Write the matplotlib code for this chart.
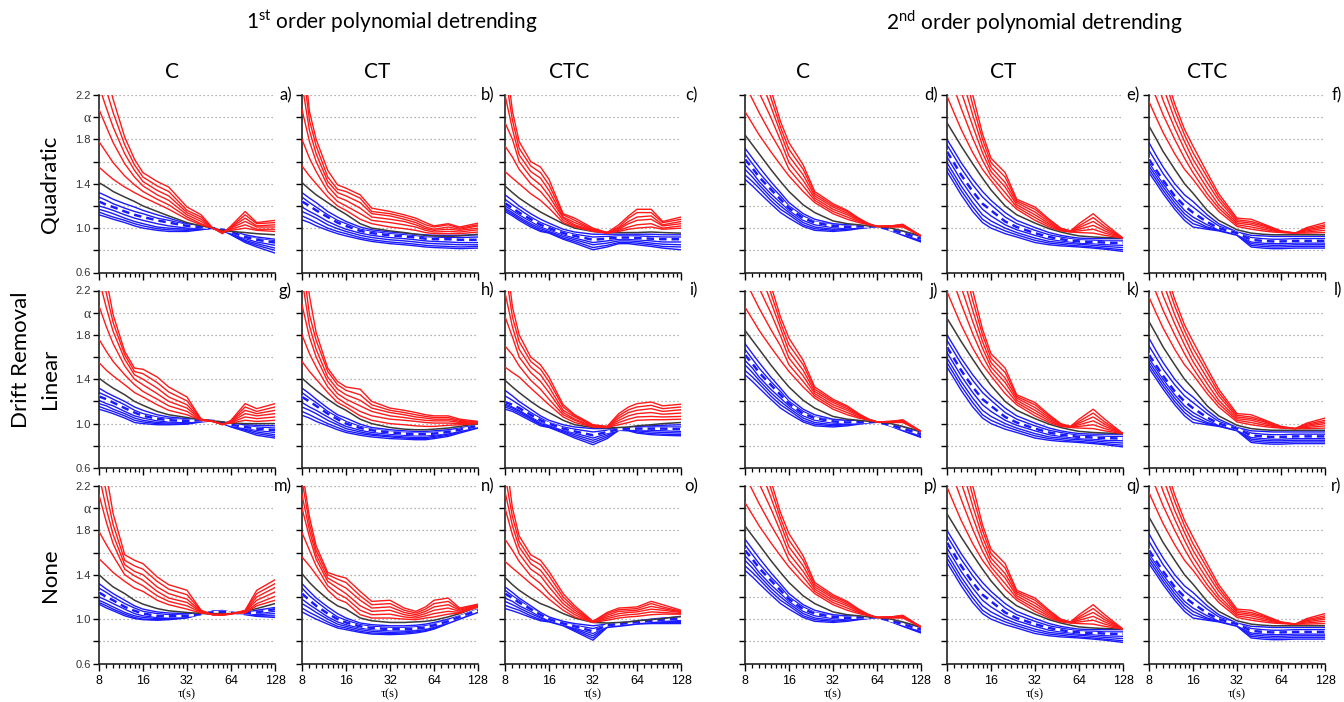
import numpy as np
import matplotlib
matplotlib.use('Agg')
import matplotlib.pyplot as plt
from matplotlib.ticker import FixedLocator, NullFormatter

plt.rcParams['font.family'] = ['Lato', 'DejaVu Sans']
plt.rcParams['mathtext.fontset'] = 'custom'
plt.rcParams['mathtext.rm'] = 'Lato'

tau = [8, 9, 10, 12, 14, 16, 20, 24, 32, 40, 48, 56, 64, 80, 96, 128]

# ---- 1st order, Quadratic, C (a)
a_black = [1.41, 1.37, 1.33, 1.28, 1.24, 1.20, 1.15, 1.11, 1.05, 1.02, 1.00, 0.98, 0.97, 0.96, 0.95, 0.94]
a_red = [
    [1.55, 1.49, 1.44, 1.37, 1.32, 1.28, 1.22, 1.17, 1.08, 1.03, 1.00, 0.97, 0.98, 1.00, 0.98, 0.97],
    [1.78, 1.68, 1.59, 1.47, 1.39, 1.33, 1.26, 1.21, 1.10, 1.04, 1.00, 0.965, 0.99, 1.03, 0.99, 0.99],
    [2.07, 1.91, 1.77, 1.58, 1.46, 1.38, 1.30, 1.25, 1.12, 1.06, 1.00, 0.96, 1.00, 1.06, 1.01, 1.01],
    [2.28, 2.08, 1.91, 1.67, 1.52, 1.42, 1.34, 1.29, 1.14, 1.08, 1.00, 0.96, 1.005, 1.09, 1.02, 1.03],
    [2.48, 2.24, 2.04, 1.75, 1.57, 1.46, 1.38, 1.33, 1.16, 1.10, 1.00, 0.955, 1.01, 1.12, 1.04, 1.05],
    [2.68, 2.40, 2.16, 1.82, 1.62, 1.50, 1.42, 1.37, 1.19, 1.12, 1.00, 0.95, 1.02, 1.15, 1.05, 1.07],
]
a_blue = [
    [1.32, 1.29, 1.26, 1.22, 1.19, 1.16, 1.12, 1.09, 1.04, 1.02, 1.00, 0.99, 0.975, 0.94, 0.92, 0.90],
    [1.28, 1.25, 1.22, 1.18, 1.15, 1.13, 1.09, 1.07, 1.03, 1.01, 1.00, 0.985, 0.97, 0.93, 0.905, 0.885],
    [1.24, 1.21, 1.19, 1.15, 1.12, 1.10, 1.07, 1.05, 1.02, 1.01, 1.00, 0.985, 0.965, 0.92, 0.895, 0.87],
    [1.20, 1.18, 1.16, 1.12, 1.09, 1.07, 1.04, 1.02, 1.00, 1.00, 1.00, 0.98, 0.955, 0.905, 0.875, 0.845],
    [1.17, 1.15, 1.13, 1.09, 1.06, 1.04, 1.01, 1.00, 0.99, 0.99, 1.00, 0.98, 0.95, 0.89, 0.86, 0.82],
    [1.145, 1.12, 1.10, 1.07, 1.04, 1.02, 0.995, 0.985, 0.98, 0.99, 1.00, 0.98, 0.945, 0.88, 0.845, 0.80],
    [1.12, 1.10, 1.08, 1.05, 1.02, 1.00, 0.98, 0.97, 0.97, 0.985, 1.00, 0.98, 0.94, 0.87, 0.83, 0.775],
]

# ---- 1st order, Quadratic, CT (b)
b_black = [1.41, 1.35, 1.30, 1.23, 1.17, 1.125, 1.04, 1.00, 0.975, 0.96, 0.945, 0.935, 0.93, 0.925, 0.93, 0.945]
b_red = [
    [1.56, 1.47, 1.40, 1.28, 1.20, 1.16, 1.08, 1.04, 1.01, 0.995, 0.98, 0.96, 0.95, 0.95, 0.95, 0.965],
    [1.80, 1.63, 1.51, 1.33, 1.24, 1.20, 1.13, 1.07, 1.05, 1.03, 1.01, 0.98, 0.965, 0.97, 0.965, 0.985],
    [2.07, 1.78, 1.60, 1.38, 1.28, 1.25, 1.18, 1.10, 1.08, 1.06, 1.03, 0.995, 0.98, 0.99, 0.98, 1.00],
    [2.30, 1.88, 1.67, 1.42, 1.32, 1.29, 1.23, 1.13, 1.11, 1.08, 1.05, 1.01, 0.99, 1.01, 0.99, 1.02],
    [2.50, 1.97, 1.74, 1.46, 1.35, 1.33, 1.27, 1.15, 1.13, 1.10, 1.07, 1.03, 1.01, 1.03, 1.00, 1.03],
    [2.70, 2.05, 1.80, 1.52, 1.39, 1.36, 1.30, 1.18, 1.15, 1.12, 1.09, 1.05, 1.02, 1.04, 1.01, 1.045],
]
b_blue = [
    [1.32, 1.27, 1.23, 1.15, 1.10, 1.06, 1.01, 0.985, 0.965, 0.955, 0.945, 0.94, 0.935, 0.935, 0.935, 0.94],
    [1.28, 1.23, 1.19, 1.12, 1.07, 1.04, 0.99, 0.97, 0.95, 0.94, 0.93, 0.92, 0.92, 0.915, 0.915, 0.92],
    [1.24, 1.20, 1.16, 1.10, 1.05, 1.02, 0.975, 0.955, 0.935, 0.925, 0.915, 0.905, 0.90, 0.90, 0.895, 0.895],
    [1.19, 1.15, 1.12, 1.06, 1.02, 0.99, 0.955, 0.935, 0.915, 0.905, 0.895, 0.885, 0.88, 0.875, 0.87, 0.87],
    [1.15, 1.12, 1.09, 1.03, 0.995, 0.97, 0.935, 0.915, 0.895, 0.885, 0.875, 0.865, 0.86, 0.855, 0.85, 0.85],
    [1.11, 1.08, 1.05, 1.00, 0.97, 0.95, 0.915, 0.895, 0.875, 0.865, 0.855, 0.845, 0.84, 0.835, 0.83, 0.835],
    [1.075, 1.05, 1.02, 0.98, 0.95, 0.93, 0.90, 0.88, 0.86, 0.85, 0.84, 0.83, 0.825, 0.82, 0.815, 0.82],
]

# ---- 1st order, Quadratic, CTC (c)
c_black = [1.38, 1.32, 1.27, 1.20, 1.145, 1.105, 1.04, 1.00, 0.97, 0.96, 0.96, 0.96, 0.96, 0.965, 0.96, 0.955]
c_red = [
    [1.51, 1.45, 1.40, 1.31, 1.25, 1.18, 1.05, 1.01, 0.97, 0.955, 0.97, 0.99, 1.00, 1.01, 0.99, 1.00],
    [1.74, 1.64, 1.53, 1.40, 1.33, 1.24, 1.07, 1.02, 0.975, 0.955, 0.98, 1.01, 1.03, 1.04, 1.00, 1.02],
    [1.95, 1.80, 1.60, 1.46, 1.39, 1.29, 1.09, 1.03, 0.98, 0.955, 0.99, 1.04, 1.07, 1.08, 1.02, 1.04],
    [2.20, 1.89, 1.66, 1.51, 1.45, 1.34, 1.10, 1.05, 0.985, 0.96, 1.00, 1.06, 1.10, 1.11, 1.03, 1.06],
    [2.40, 1.97, 1.72, 1.56, 1.50, 1.39, 1.12, 1.07, 0.99, 0.96, 1.01, 1.09, 1.14, 1.14, 1.05, 1.08],
    [2.60, 2.05, 1.78, 1.60, 1.55, 1.44, 1.13, 1.09, 1.00, 0.96, 1.03, 1.11, 1.17, 1.17, 1.06, 1.10],
]
c_blue = [
    [1.30, 1.25, 1.20, 1.13, 1.08, 1.045, 0.99, 0.965, 0.945, 0.945, 0.945, 0.945, 0.945, 0.945, 0.94, 0.94],
    [1.26, 1.21, 1.17, 1.10, 1.05, 1.02, 0.97, 0.945, 0.92, 0.925, 0.93, 0.93, 0.93, 0.925, 0.92, 0.92],
    [1.225, 1.18, 1.14, 1.08, 1.03, 1.00, 0.955, 0.93, 0.895, 0.905, 0.915, 0.915, 0.91, 0.905, 0.90, 0.90],
    [1.20, 1.16, 1.12, 1.06, 1.01, 0.985, 0.94, 0.91, 0.87, 0.885, 0.90, 0.90, 0.895, 0.885, 0.875, 0.875],
    [1.18, 1.14, 1.10, 1.04, 0.995, 0.97, 0.925, 0.895, 0.85, 0.865, 0.885, 0.885, 0.88, 0.865, 0.855, 0.85],
    [1.165, 1.125, 1.085, 1.025, 0.98, 0.96, 0.91, 0.88, 0.825, 0.845, 0.87, 0.87, 0.865, 0.85, 0.835, 0.83],
    [1.15, 1.11, 1.07, 1.01, 0.97, 0.955, 0.90, 0.865, 0.805, 0.83, 0.86, 0.86, 0.85, 0.835, 0.82, 0.805],
]

# ---- 2nd order, C (d, also j and p)
d_black = [1.84, 1.75, 1.67, 1.53, 1.42, 1.33, 1.21, 1.14, 1.065, 1.04, 1.03, 1.02, 1.015, 1.00, 0.975, 0.93]
d_red = [
    [2.05, 1.94, 1.84, 1.69, 1.57, 1.47, 1.33, 1.23, 1.13, 1.08, 1.05, 1.03, 1.015, 1.01, 1.01, 0.93],
    [2.30, 2.16, 2.04, 1.85, 1.70, 1.53, 1.38, 1.25, 1.15, 1.10, 1.06, 1.035, 1.015, 1.015, 1.015, 0.93],
    [2.55, 2.38, 2.22, 2.00, 1.79, 1.59, 1.43, 1.27, 1.17, 1.12, 1.07, 1.035, 1.015, 1.015, 1.02, 0.93],
    [2.75, 2.56, 2.38, 2.10, 1.86, 1.65, 1.48, 1.29, 1.19, 1.135, 1.08, 1.04, 1.015, 1.02, 1.025, 0.93],
    [2.95, 2.72, 2.50, 2.18, 1.91, 1.71, 1.53, 1.31, 1.205, 1.15, 1.085, 1.04, 1.015, 1.02, 1.03, 0.93],
    [3.20, 2.85, 2.60, 2.25, 1.96, 1.77, 1.57, 1.33, 1.22, 1.16, 1.09, 1.04, 1.015, 1.02, 1.035, 0.93],
]
d_blue = [
    [1.72, 1.63, 1.55, 1.42, 1.32, 1.23, 1.13, 1.08, 1.04, 1.03, 1.025, 1.02, 1.015, 0.99, 0.965, 0.925],
    [1.67, 1.58, 1.50, 1.38, 1.29, 1.20, 1.11, 1.06, 1.03, 1.02, 1.02, 1.02, 1.015, 0.99, 0.96, 0.915],
    [1.62, 1.54, 1.46, 1.35, 1.26, 1.18, 1.09, 1.05, 1.02, 1.01, 1.015, 1.015, 1.015, 0.985, 0.955, 0.905],
    [1.57, 1.50, 1.42, 1.31, 1.23, 1.16, 1.07, 1.03, 1.005, 1.00, 1.01, 1.015, 1.015, 0.985, 0.95, 0.895],
    [1.53, 1.46, 1.39, 1.28, 1.20, 1.14, 1.05, 1.01, 0.99, 0.995, 1.005, 1.01, 1.015, 0.98, 0.945, 0.89],
    [1.48, 1.42, 1.36, 1.25, 1.17, 1.12, 1.03, 0.995, 0.98, 0.99, 1.00, 1.01, 1.015, 0.98, 0.94, 0.88],
    [1.44, 1.38, 1.32, 1.22, 1.14, 1.09, 1.015, 0.98, 0.97, 0.98, 0.995, 1.005, 1.015, 0.975, 0.935, 0.875],
]

# ---- 2nd order, CT (e, also k and q)
e_black = [1.95, 1.84, 1.74, 1.58, 1.45, 1.345, 1.20, 1.12, 1.045, 0.995, 0.965, 0.945, 0.93, 0.92, 0.915, 0.91]
e_red = [
    [2.19, 2.03, 1.89, 1.68, 1.53, 1.43, 1.27, 1.17, 1.07, 1.01, 0.975, 0.965, 0.96, 0.955, 0.935, 0.91],
    [2.45, 2.25, 2.08, 1.81, 1.61, 1.47, 1.32, 1.19, 1.095, 1.025, 0.98, 0.967, 0.975, 0.99, 0.955, 0.91],
    [2.70, 2.45, 2.23, 1.92, 1.68, 1.51, 1.37, 1.21, 1.12, 1.04, 0.985, 0.969, 0.99, 1.025, 0.975, 0.91],
    [2.90, 2.62, 2.38, 2.02, 1.74, 1.55, 1.41, 1.23, 1.145, 1.055, 0.99, 0.971, 1.005, 1.06, 0.995, 0.91],
    [3.10, 2.80, 2.52, 2.11, 1.80, 1.59, 1.46, 1.245, 1.17, 1.07, 0.995, 0.973, 1.02, 1.095, 1.015, 0.91],
    [3.30, 2.95, 2.65, 2.20, 1.85, 1.63, 1.50, 1.26, 1.19, 1.08, 1.00, 0.975, 1.04, 1.13, 1.04, 0.91],
]
e_blue = [
    [1.80, 1.69, 1.59, 1.44, 1.33, 1.25, 1.14, 1.07, 1.005, 0.96, 0.935, 0.92, 0.91, 0.905, 0.905, 0.905],
    [1.75, 1.64, 1.54, 1.39, 1.28, 1.21, 1.10, 1.04, 0.98, 0.94, 0.92, 0.905, 0.895, 0.89, 0.885, 0.885],
    [1.69, 1.58, 1.48, 1.33, 1.22, 1.16, 1.06, 1.01, 0.955, 0.92, 0.90, 0.89, 0.88, 0.875, 0.87, 0.865],
    [1.64, 1.53, 1.43, 1.28, 1.17, 1.11, 1.03, 0.985, 0.935, 0.90, 0.885, 0.875, 0.865, 0.86, 0.85, 0.845],
    [1.59, 1.48, 1.38, 1.23, 1.12, 1.065, 1.00, 0.96, 0.91, 0.88, 0.87, 0.86, 0.855, 0.845, 0.835, 0.825],
    [1.55, 1.44, 1.34, 1.19, 1.08, 1.03, 0.975, 0.94, 0.89, 0.865, 0.855, 0.845, 0.84, 0.83, 0.82, 0.805],
    [1.51, 1.40, 1.30, 1.15, 1.05, 1.00, 0.95, 0.92, 0.87, 0.85, 0.84, 0.835, 0.83, 0.82, 0.81, 0.79],
]

# ---- 2nd order, CTC (f, also l and r)
f_black = [1.92, 1.80, 1.69, 1.53, 1.40, 1.315, 1.16, 1.07, 0.985, 0.955, 0.945, 0.94, 0.94, 0.94, 0.94, 0.94]
f_red = [
    [2.14, 1.99, 1.86, 1.67, 1.53, 1.44, 1.27, 1.15, 1.015, 0.99, 0.975, 0.965, 0.96, 0.955, 0.955, 0.96],
    [2.35, 2.17, 2.02, 1.80, 1.63, 1.50, 1.31, 1.18, 1.03, 1.01, 0.99, 0.975, 0.963, 0.955, 0.965, 0.98],
    [2.55, 2.33, 2.15, 1.90, 1.71, 1.56, 1.36, 1.21, 1.045, 1.03, 1.005, 0.985, 0.966, 0.955, 0.975, 1.00],
    [2.72, 2.48, 2.27, 1.98, 1.78, 1.62, 1.41, 1.25, 1.06, 1.045, 1.02, 0.99, 0.969, 0.955, 0.985, 1.015],
    [2.88, 2.60, 2.37, 2.06, 1.84, 1.68, 1.46, 1.28, 1.075, 1.06, 1.03, 0.998, 0.972, 0.955, 0.995, 1.03],
    [3.00, 2.70, 2.45, 2.12, 1.89, 1.74, 1.50, 1.31, 1.09, 1.08, 1.04, 1.005, 0.975, 0.955, 1.005, 1.05],
]
f_blue = [
    [1.77, 1.65, 1.55, 1.40, 1.30, 1.24, 1.12, 1.04, 0.965, 0.935, 0.93, 0.925, 0.925, 0.925, 0.925, 0.925],
    [1.70, 1.59, 1.49, 1.35, 1.25, 1.19, 1.09, 1.02, 0.96, 0.915, 0.905, 0.90, 0.90, 0.905, 0.905, 0.905],
    [1.62, 1.52, 1.43, 1.29, 1.20, 1.14, 1.055, 1.00, 0.955, 0.895, 0.885, 0.88, 0.88, 0.885, 0.885, 0.885],
    [1.59, 1.49, 1.40, 1.26, 1.16, 1.10, 1.03, 0.99, 0.95, 0.875, 0.865, 0.86, 0.86, 0.865, 0.865, 0.865],
    [1.56, 1.46, 1.37, 1.23, 1.13, 1.07, 1.01, 0.985, 0.945, 0.86, 0.85, 0.845, 0.845, 0.85, 0.85, 0.85],
    [1.53, 1.43, 1.34, 1.20, 1.10, 1.04, 1.00, 0.98, 0.94, 0.845, 0.835, 0.83, 0.83, 0.835, 0.835, 0.835],
    [1.50, 1.40, 1.31, 1.17, 1.07, 1.01, 0.99, 0.975, 0.935, 0.83, 0.82, 0.815, 0.815, 0.82, 0.82, 0.82],
]

# ---- 1st order, Linear, C (g)
g_black = [1.41, 1.36, 1.32, 1.26, 1.20, 1.165, 1.11, 1.08, 1.055, 1.035, 1.025, 1.015, 1.005, 1.00, 1.00, 1.00]
g_red = [
    [1.55, 1.48, 1.43, 1.35, 1.28, 1.24, 1.17, 1.12, 1.08, 1.03, 1.02, 0.995, 1.005, 1.03, 1.02, 1.03],
    [1.76, 1.65, 1.56, 1.44, 1.35, 1.29, 1.22, 1.16, 1.11, 1.03, 1.02, 0.994, 1.01, 1.06, 1.045, 1.06],
    [2.06, 1.87, 1.72, 1.52, 1.40, 1.35, 1.27, 1.20, 1.14, 1.035, 1.02, 0.993, 1.015, 1.09, 1.07, 1.09],
    [2.30, 2.04, 1.83, 1.58, 1.44, 1.40, 1.32, 1.24, 1.17, 1.035, 1.02, 0.992, 1.02, 1.12, 1.09, 1.12],
    [2.50, 2.17, 1.91, 1.62, 1.47, 1.45, 1.37, 1.285, 1.205, 1.04, 1.02, 0.991, 1.025, 1.15, 1.11, 1.15],
    [2.70, 2.30, 1.98, 1.65, 1.50, 1.49, 1.42, 1.33, 1.24, 1.04, 1.02, 0.99, 1.03, 1.18, 1.135, 1.18],
]
g_blue = [
    [1.32, 1.28, 1.25, 1.20, 1.15, 1.12, 1.08, 1.06, 1.045, 1.035, 1.025, 1.015, 1.00, 0.99, 0.985, 0.98],
    [1.28, 1.25, 1.22, 1.17, 1.12, 1.09, 1.06, 1.045, 1.035, 1.03, 1.025, 1.01, 0.995, 0.98, 0.97, 0.96],
    [1.245, 1.22, 1.19, 1.14, 1.10, 1.07, 1.045, 1.03, 1.025, 1.03, 1.025, 1.01, 0.99, 0.97, 0.955, 0.94],
    [1.21, 1.18, 1.16, 1.11, 1.07, 1.05, 1.025, 1.015, 1.015, 1.025, 1.025, 1.005, 0.985, 0.96, 0.94, 0.92],
    [1.18, 1.16, 1.13, 1.09, 1.05, 1.03, 1.01, 1.005, 1.01, 1.02, 1.025, 1.005, 0.98, 0.95, 0.925, 0.90],
    [1.155, 1.13, 1.11, 1.07, 1.03, 1.015, 1.00, 0.995, 1.00, 1.02, 1.025, 1.00, 0.975, 0.94, 0.91, 0.885],
    [1.13, 1.11, 1.09, 1.05, 1.01, 1.00, 0.99, 0.99, 0.995, 1.015, 1.025, 1.00, 0.97, 0.93, 0.895, 0.87],
]

# ---- 1st order, Linear, CT (h)
h_black = [1.41, 1.35, 1.30, 1.22, 1.16, 1.12, 1.04, 1.00, 0.965, 0.95, 0.945, 0.945, 0.95, 0.96, 0.975, 1.00]
h_red = [
    [1.56, 1.47, 1.40, 1.28, 1.19, 1.15, 1.07, 1.03, 1.00, 0.99, 0.98, 0.975, 0.975, 0.985, 0.99, 1.00],
    [1.80, 1.63, 1.51, 1.33, 1.23, 1.18, 1.11, 1.07, 1.04, 1.03, 1.02, 1.01, 1.005, 1.005, 1.00, 1.00],
    [2.07, 1.78, 1.60, 1.38, 1.27, 1.22, 1.16, 1.11, 1.07, 1.055, 1.04, 1.03, 1.025, 1.025, 1.01, 1.005],
    [2.30, 1.88, 1.67, 1.42, 1.31, 1.26, 1.21, 1.14, 1.10, 1.08, 1.06, 1.05, 1.04, 1.04, 1.02, 1.01],
    [2.50, 1.98, 1.75, 1.47, 1.35, 1.30, 1.26, 1.17, 1.12, 1.10, 1.08, 1.065, 1.055, 1.055, 1.03, 1.015],
    [2.70, 2.15, 1.82, 1.50, 1.38, 1.33, 1.31, 1.20, 1.14, 1.12, 1.10, 1.08, 1.07, 1.07, 1.04, 1.02],
]
h_blue = [
    [1.32, 1.27, 1.22, 1.14, 1.08, 1.05, 0.995, 0.965, 0.945, 0.935, 0.93, 0.93, 0.935, 0.945, 0.96, 0.99],
    [1.28, 1.23, 1.19, 1.11, 1.06, 1.02, 0.975, 0.95, 0.93, 0.92, 0.915, 0.915, 0.92, 0.935, 0.955, 0.985],
    [1.24, 1.20, 1.16, 1.09, 1.04, 1.00, 0.96, 0.94, 0.92, 0.91, 0.905, 0.905, 0.91, 0.925, 0.945, 0.98],
    [1.19, 1.15, 1.12, 1.06, 1.01, 0.975, 0.94, 0.92, 0.905, 0.895, 0.89, 0.89, 0.895, 0.915, 0.94, 0.975],
    [1.15, 1.12, 1.09, 1.03, 0.99, 0.955, 0.925, 0.905, 0.89, 0.88, 0.875, 0.875, 0.885, 0.905, 0.93, 0.97],
    [1.11, 1.08, 1.05, 1.00, 0.965, 0.935, 0.91, 0.895, 0.88, 0.87, 0.865, 0.865, 0.875, 0.895, 0.925, 0.965],
    [1.075, 1.05, 1.02, 0.98, 0.945, 0.92, 0.895, 0.88, 0.865, 0.86, 0.855, 0.855, 0.865, 0.885, 0.915, 0.96],
]

# ---- 1st order, Linear, CTC (i)
i_black = [1.39, 1.33, 1.28, 1.20, 1.14, 1.10, 1.03, 0.99, 0.965, 0.96, 0.965, 0.97, 0.98, 0.99, 1.00, 1.01]
i_red = [
    [1.51, 1.46, 1.42, 1.32, 1.24, 1.17, 1.06, 1.01, 0.97, 0.965, 0.99, 1.01, 1.03, 1.035, 1.035, 1.04],
    [1.70, 1.62, 1.52, 1.39, 1.31, 1.22, 1.08, 1.03, 0.97, 0.967, 1.01, 1.04, 1.06, 1.065, 1.06, 1.065],
    [1.965, 1.78, 1.60, 1.46, 1.38, 1.28, 1.10, 1.04, 0.975, 0.969, 1.03, 1.07, 1.09, 1.10, 1.085, 1.095],
    [2.18, 1.87, 1.67, 1.51, 1.44, 1.33, 1.12, 1.06, 0.98, 0.971, 1.05, 1.10, 1.12, 1.135, 1.11, 1.125],
    [2.40, 1.96, 1.74, 1.56, 1.49, 1.38, 1.15, 1.07, 0.985, 0.973, 1.07, 1.125, 1.15, 1.165, 1.135, 1.15],
    [2.60, 2.05, 1.80, 1.60, 1.53, 1.42, 1.17, 1.08, 0.99, 0.975, 1.09, 1.15, 1.18, 1.195, 1.16, 1.175],
]
i_blue = [
    [1.30, 1.25, 1.20, 1.13, 1.07, 1.03, 0.99, 0.97, 0.955, 0.955, 0.96, 0.965, 0.975, 0.98, 0.985, 0.99],
    [1.25, 1.21, 1.17, 1.10, 1.05, 1.01, 0.97, 0.95, 0.925, 0.94, 0.955, 0.96, 0.965, 0.97, 0.97, 0.97],
    [1.195, 1.17, 1.14, 1.08, 1.03, 1.00, 0.955, 0.93, 0.895, 0.925, 0.95, 0.955, 0.955, 0.955, 0.955, 0.95],
    [1.18, 1.15, 1.12, 1.06, 1.015, 0.99, 0.945, 0.915, 0.87, 0.91, 0.945, 0.95, 0.945, 0.94, 0.935, 0.93],
    [1.165, 1.14, 1.11, 1.05, 1.00, 0.98, 0.935, 0.90, 0.85, 0.895, 0.945, 0.945, 0.935, 0.925, 0.92, 0.915],
    [1.15, 1.125, 1.095, 1.04, 0.99, 0.97, 0.925, 0.885, 0.83, 0.88, 0.94, 0.94, 0.925, 0.91, 0.905, 0.90],
    [1.13, 1.11, 1.08, 1.025, 0.98, 0.965, 0.915, 0.87, 0.81, 0.865, 0.94, 0.935, 0.915, 0.90, 0.895, 0.89],
]

# ---- 1st order, None, C (m)
m_black = [1.40, 1.34, 1.29, 1.23, 1.17, 1.135, 1.095, 1.075, 1.06, 1.05, 1.05, 1.05, 1.05, 1.07, 1.095, 1.14]
m_red = [
    [1.545, 1.48, 1.42, 1.34, 1.28, 1.25, 1.17, 1.13, 1.09, 1.055, 1.045, 1.045, 1.05, 1.055, 1.12, 1.17],
    [1.79, 1.67, 1.57, 1.40, 1.34, 1.30, 1.21, 1.16, 1.12, 1.06, 1.04, 1.04, 1.05, 1.06, 1.14, 1.205],
    [2.12, 1.87, 1.68, 1.45, 1.39, 1.35, 1.25, 1.19, 1.15, 1.065, 1.04, 1.04, 1.049, 1.065, 1.17, 1.245],
    [2.30, 1.99, 1.76, 1.49, 1.43, 1.40, 1.29, 1.23, 1.18, 1.07, 1.04, 1.039, 1.048, 1.07, 1.20, 1.285],
    [2.50, 2.13, 1.85, 1.53, 1.48, 1.45, 1.34, 1.27, 1.22, 1.075, 1.04, 1.037, 1.047, 1.075, 1.23, 1.32],
    [2.75, 2.30, 1.95, 1.58, 1.53, 1.50, 1.38, 1.31, 1.26, 1.08, 1.04, 1.035, 1.045, 1.08, 1.26, 1.355],
]
m_blue = [
    [1.32, 1.27, 1.23, 1.17, 1.12, 1.09, 1.065, 1.055, 1.05, 1.05, 1.055, 1.06, 1.055, 1.06, 1.08, 1.105],
    [1.28, 1.24, 1.20, 1.14, 1.10, 1.07, 1.05, 1.04, 1.04, 1.045, 1.06, 1.063, 1.057, 1.055, 1.07, 1.10],
    [1.24, 1.20, 1.17, 1.11, 1.075, 1.05, 1.03, 1.025, 1.03, 1.045, 1.062, 1.066, 1.058, 1.05, 1.06, 1.09],
    [1.20, 1.17, 1.14, 1.09, 1.05, 1.03, 1.015, 1.015, 1.025, 1.045, 1.065, 1.069, 1.059, 1.05, 1.05, 1.07],
    [1.17, 1.14, 1.11, 1.06, 1.03, 1.015, 1.005, 1.005, 1.02, 1.045, 1.067, 1.072, 1.06, 1.045, 1.04, 1.05],
    [1.15, 1.12, 1.09, 1.045, 1.015, 1.00, 0.995, 1.00, 1.015, 1.045, 1.07, 1.075, 1.06, 1.045, 1.03, 1.03],
    [1.135, 1.10, 1.075, 1.03, 1.005, 0.995, 0.99, 0.995, 1.01, 1.045, 1.072, 1.078, 1.062, 1.04, 1.025, 1.015],
]

# ---- 1st order, None, CT (n)
n_black = [1.41, 1.33, 1.27, 1.18, 1.12, 1.09, 1.01, 0.985, 0.97, 0.97, 0.975, 0.98, 0.99, 1.02, 1.05, 1.11]
n_red = [
    [1.56, 1.48, 1.40, 1.26, 1.18, 1.15, 1.04, 1.01, 1.01, 1.00, 0.995, 1.01, 1.02, 1.045, 1.055, 1.11],
    [1.78, 1.62, 1.48, 1.30, 1.23, 1.19, 1.08, 1.04, 1.045, 1.02, 1.01, 1.03, 1.05, 1.07, 1.06, 1.115],
    [2.00, 1.74, 1.54, 1.34, 1.28, 1.23, 1.12, 1.07, 1.08, 1.04, 1.025, 1.05, 1.08, 1.10, 1.07, 1.12],
    [2.12, 1.80, 1.58, 1.37, 1.32, 1.28, 1.17, 1.10, 1.11, 1.06, 1.04, 1.07, 1.11, 1.13, 1.08, 1.125],
    [2.25, 1.86, 1.62, 1.40, 1.36, 1.33, 1.21, 1.13, 1.14, 1.08, 1.055, 1.09, 1.14, 1.16, 1.09, 1.13],
    [2.35, 1.92, 1.66, 1.42, 1.39, 1.37, 1.25, 1.16, 1.17, 1.10, 1.07, 1.11, 1.17, 1.19, 1.10, 1.135],
]
n_blue = [
    [1.32, 1.25, 1.19, 1.11, 1.05, 1.01, 0.965, 0.95, 0.94, 0.94, 0.945, 0.955, 0.97, 1.00, 1.03, 1.09],
    [1.28, 1.21, 1.16, 1.08, 1.02, 0.99, 0.95, 0.935, 0.925, 0.925, 0.93, 0.94, 0.955, 0.99, 1.025, 1.085],
    [1.23, 1.17, 1.12, 1.05, 1.00, 0.97, 0.935, 0.92, 0.91, 0.91, 0.915, 0.925, 0.945, 0.98, 1.02, 1.08],
    [1.18, 1.13, 1.09, 1.02, 0.975, 0.95, 0.92, 0.905, 0.895, 0.895, 0.905, 0.915, 0.935, 0.975, 1.015, 1.075],
    [1.14, 1.10, 1.06, 1.00, 0.955, 0.935, 0.905, 0.89, 0.88, 0.885, 0.895, 0.905, 0.925, 0.97, 1.01, 1.07],
    [1.10, 1.06, 1.03, 0.975, 0.935, 0.92, 0.89, 0.875, 0.87, 0.875, 0.885, 0.895, 0.915, 0.965, 1.005, 1.065],
    [1.065, 1.03, 1.00, 0.955, 0.92, 0.905, 0.88, 0.865, 0.86, 0.865, 0.875, 0.89, 0.91, 0.96, 1.00, 1.06],
]

# ---- 1st order, None, CTC (o)
o_black = [1.375, 1.31, 1.26, 1.19, 1.14, 1.11, 1.05, 1.01, 0.97, 0.965, 0.97, 0.975, 0.985, 0.995, 1.005, 1.025]
o_red = [
    [1.52, 1.46, 1.41, 1.32, 1.25, 1.18, 1.08, 1.02, 0.97, 0.99, 1.01, 1.02, 1.025, 1.04, 1.045, 1.045],
    [1.72, 1.62, 1.52, 1.39, 1.32, 1.23, 1.11, 1.04, 0.972, 1.005, 1.03, 1.04, 1.045, 1.065, 1.06, 1.05],
    [2.00, 1.76, 1.59, 1.45, 1.39, 1.29, 1.14, 1.06, 0.974, 1.02, 1.05, 1.06, 1.065, 1.09, 1.08, 1.06],
    [2.15, 1.84, 1.65, 1.50, 1.44, 1.34, 1.17, 1.08, 0.976, 1.035, 1.07, 1.075, 1.08, 1.115, 1.095, 1.065],
    [2.30, 1.92, 1.70, 1.54, 1.49, 1.39, 1.20, 1.10, 0.978, 1.05, 1.085, 1.09, 1.095, 1.14, 1.11, 1.07],
    [2.50, 2.00, 1.75, 1.58, 1.53, 1.43, 1.23, 1.12, 0.98, 1.06, 1.10, 1.105, 1.11, 1.16, 1.13, 1.08],
]
o_blue = [
    [1.29, 1.24, 1.19, 1.12, 1.06, 1.02, 0.98, 0.96, 0.94, 0.955, 0.965, 0.975, 0.985, 1.00, 1.01, 1.02],
    [1.26, 1.21, 1.17, 1.10, 1.05, 1.01, 0.97, 0.945, 0.915, 0.95, 0.96, 0.97, 0.98, 0.99, 1.00, 1.01],
    [1.23, 1.19, 1.15, 1.09, 1.04, 1.00, 0.96, 0.935, 0.89, 0.945, 0.955, 0.965, 0.975, 0.985, 0.995, 1.005],
    [1.19, 1.16, 1.12, 1.07, 1.02, 0.99, 0.955, 0.92, 0.87, 0.94, 0.95, 0.96, 0.97, 0.975, 0.985, 0.99],
    [1.16, 1.13, 1.10, 1.05, 1.01, 0.985, 0.95, 0.91, 0.85, 0.935, 0.945, 0.955, 0.965, 0.97, 0.975, 0.98],
    [1.125, 1.10, 1.08, 1.03, 0.995, 0.98, 0.945, 0.90, 0.83, 0.93, 0.94, 0.95, 0.96, 0.965, 0.97, 0.97],
    [1.095, 1.075, 1.055, 1.015, 0.985, 0.975, 0.94, 0.89, 0.81, 0.925, 0.935, 0.945, 0.955, 0.96, 0.96, 0.96],
]

# panel letter -> curves (2nd order rows look alike, so they reuse d/e/f)
panel_data = {
    'a': (a_black, a_red, a_blue), 'b': (b_black, b_red, b_blue), 'c': (c_black, c_red, c_blue),
    'd': (d_black, d_red, d_blue), 'e': (e_black, e_red, e_blue), 'f': (f_black, f_red, f_blue),
    'g': (g_black, g_red, g_blue), 'h': (h_black, h_red, h_blue), 'i': (i_black, i_red, i_blue),
    'j': (d_black, d_red, d_blue), 'k': (e_black, e_red, e_blue), 'l': (f_black, f_red, f_blue),
    'm': (m_black, m_red, m_blue), 'n': (n_black, n_red, n_blue), 'o': (o_black, o_red, o_blue),
    'p': (d_black, d_red, d_blue), 'q': (e_black, e_red, e_blue), 'r': (f_black, f_red, f_blue),
}
layout = [['a', 'b', 'c', 'd', 'e', 'f'],
          ['g', 'h', 'i', 'j', 'k', 'l'],
          ['m', 'n', 'o', 'p', 'q', 'r']]
col_titles = ['C', 'CT', 'CTC', 'C', 'CT', 'CTC']
row_titles = ['Quadratic', 'Linear', 'None']

RED = '#ff1a1a'
BLUE = '#1a1aff'
BLACK = '#3a3a3a'

W, H = 1344, 702
fig = plt.figure(figsize=(W / 100, H / 100), dpi=100)

col_x = [99, 302, 505, 745, 947, 1149]
row_y = [95, 290.5, 486]
pw, ph = 176, 177.5

minor = list(range(9, 16)) + list(range(18, 32, 2)) + list(range(36, 64, 4)) + list(range(72, 128, 8))

for r in range(3):
    for c in range(6):
        key = layout[r][c]
        black, red, blue = panel_data[key]
        ax = fig.add_axes([col_x[c] / W, 1 - (row_y[r] + ph) / H, pw / W, ph / H])
        ax.set_xscale('log', base=2)
        ax.set_xlim(8, 128)
        ax.set_ylim(0.6, 2.2)
        for gy in np.arange(0.8, 2.21, 0.2):
            ax.axhline(gy, color='#9a9a9a', lw=0.9, ls=(0, (1, 2.2)), zorder=0)

        for k, ln in enumerate(blue):
            if k == 2:
                continue
            ax.plot(tau, ln, color=BLUE, lw=1.0, zorder=2)
        ax.plot(tau, blue[2], color='white', lw=1.8, zorder=3)
        ax.plot(tau, blue[2], color=BLUE, lw=1.8, ls=(0, (3, 2)), zorder=3)
        ax.plot(tau, black, color=BLACK, lw=1.1, zorder=4)
        for ln in red:
            ax.plot(tau, ln, color=RED, lw=1.0, zorder=5)

        for s in ['top', 'right']:
            ax.spines[s].set_visible(False)
        for s in ['left', 'bottom']:
            ax.spines[s].set_linewidth(1.2)
            ax.spines[s].set_color('#222222')

        ax.xaxis.set_major_locator(FixedLocator([8, 16, 32, 64, 128]))
        ax.xaxis.set_minor_locator(FixedLocator(minor))
        ax.xaxis.set_minor_formatter(NullFormatter())
        ax.tick_params(axis='x', which='major', direction='out', length=5, width=1.0,
                       labelsize=9, pad=3)
        ax.tick_params(axis='x', which='minor', direction='out', length=3, width=0.9)
        ax.set_yticks(np.round(np.arange(0.6, 2.21, 0.2), 1))
        ax.tick_params(axis='y', direction='out', length=4, width=1.0, labelsize=8, pad=2)

        if r == 2:
            ax.set_xticklabels(['8', '16', '32', '64', '128'], fontfamily='Liberation Sans')
            ax.set_xlabel('τ(s)', fontfamily='Liberation Serif', fontsize=9, labelpad=1)
        else:
            ax.set_xticklabels([])

        if c == 0:
            ylabs = ['0.6', '', '1.0', '', '1.4', '', '1.8', 'α', '2.2']
            ax.set_yticklabels(ylabs, fontfamily='Liberation Sans', color='#333333')
            ax.get_yticklabels()[7].set_fontfamily('Liberation Serif')
            ax.get_yticklabels()[7].set_fontsize(10)
        else:
            ax.set_yticklabels([])

        ax.text(1.095, 1.0, key + ')', transform=ax.transAxes, ha='right', va='center',
                fontsize=12, clip_on=False)

# column titles
title_x = [172, 377, 569, 803, 1003, 1207]
for c in range(6):
    fig.text(title_x[c] / W, 1 - 72 / H, col_titles[c], ha='center', va='center', fontsize=15)

fig.text(392 / W, 1 - 22 / H, r'1$^{\mathrm{st}}$ order polynomial detrending',
         ha='center', va='center', fontsize=15)
fig.text(1034 / W, 1 - 22 / H, r'2$^{\mathrm{nd}}$ order polynomial detrending',
         ha='center', va='center', fontsize=15)

row_mid = [184, 379, 575]
for r in range(3):
    fig.text(50 / W, 1 - row_mid[r] / H, row_titles[r], rotation=90,
             ha='center', va='center', fontsize=16)
fig.text(21 / W, 1 - 360 / H, 'Drift Removal', rotation=90, ha='center', va='center', fontsize=16)

fig.savefig('out.png', dpi=100)
